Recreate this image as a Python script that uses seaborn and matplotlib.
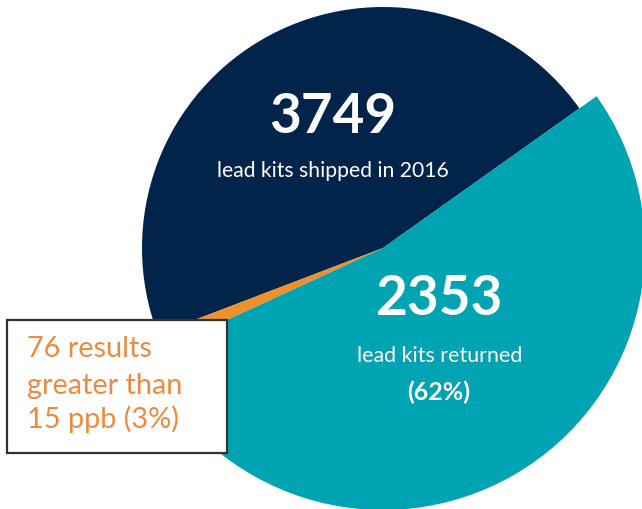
import matplotlib
matplotlib.use("Agg")
import matplotlib.pyplot as plt
import seaborn as sns
from matplotlib.patches import Rectangle

# ---- data ----
segments = ["Not returned", "Over 15 ppb", "Returned"]
# slice shares as drawn in the infographic (degrees of the circle)
slice_share = [165.5, 3.9, 190.6]
kits_shipped = 3749
kits_returned = 2353
results_over = 76
pct_returned = 62
pct_over = 3

colors = ["#02244a", "#f0902a", "#00a3b2"]
text_orange = "#ee8a3f"

sns.set_theme(style="white")
plt.rcParams["font.family"] = ["Lato", "DejaVu Sans"]

W, H = 642, 510
fig = plt.figure(figsize=(W / 100, H / 100), dpi=100)
ax = fig.add_axes([0, 0, 1, 1])

cx, cy = 383, H - 249
wedges, _ = ax.pie(
    slice_share,
    colors=sns.color_palette(colors),
    startangle=35.4,
    counterclock=True,
    radius=241,
    center=(cx, cy),
    wedgeprops=dict(linewidth=0, antialiased=True),
)
wedges[2].set_radius(262)

ax.set_aspect("equal")
ax.set_xlim(0, W)
ax.set_ylim(0, H)
ax.axis("off")

def Y(y):
    return H - y

# navy labels
ax.text(333, Y(133), f"{kits_shipped}", color="white", fontsize=39.5,
        fontweight="bold", ha="center", va="baseline")
ax.text(332.5, Y(177), "lead kits shipped in 2016", color="white",
        fontsize=15.2, ha="center", va="baseline")

# teal labels
ax.text(440, Y(315), f"{kits_returned}", color="white", fontsize=39.5,
        fontweight="bold", ha="center", va="baseline")
ax.text(440, Y(362), "lead kits returned", color="white",
        fontsize=15.4, ha="center", va="baseline")
ax.text(439, Y(400), f"({pct_returned}%)", color="white",
        fontsize=18, fontweight="bold", ha="center", va="baseline")

# callout box
ax.add_patch(Rectangle((7, Y(454)), 220, 133, facecolor="white",
                       edgecolor="#333333", linewidth=1.6, zorder=5))
for line, base in zip([f"{results_over} results", "greater than",
                       f"15 ppb ({pct_over}%)"], [357, 394, 428]):
    ax.text(27, Y(base), line, color=text_orange, fontsize=20.8,
            ha="left", va="baseline", zorder=6)

fig.savefig("out.png", dpi=100, facecolor="white")
